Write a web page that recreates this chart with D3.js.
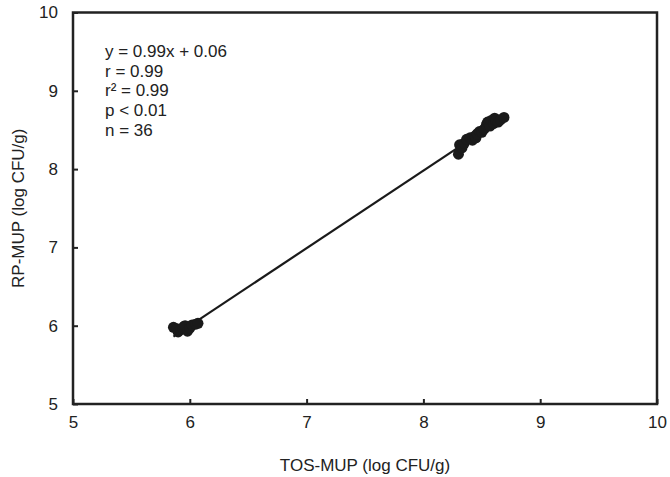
<!DOCTYPE html>
<html>
<head>
<meta charset="utf-8">
<script src="https://cdn.jsdelivr.net/npm/d3@7"></script>
<style>
html,body{margin:0;padding:0;background:#fff;}
svg{display:block;}
text{font-family:"Liberation Sans",Arial,sans-serif;fill:#222;}
</style>
</head>
<body>
<svg id="chart" width="670" height="477"></svg>
<script>
// TOS-MUP (x) values, log CFU/g
const xValues = [
  5.86, 5.89, 5.90, 5.92, 5.94, 5.95, 5.96, 5.98, 6.00, 6.02, 6.05, 6.07,
  8.30, 8.31, 8.33, 8.35, 8.37, 8.40, 8.42, 8.44, 8.45, 8.46, 8.48, 8.50,
  8.52, 8.54, 8.55, 8.56, 8.57, 8.58, 8.60, 8.61, 8.62, 8.64, 8.66, 8.69
];
// RP-MUP (y) values, log CFU/g
const yValues = [
  5.98, 5.96, 5.92, 5.95, 5.97, 5.99, 6.00, 5.93, 5.97, 6.01, 6.02, 6.03,
  8.19, 8.31, 8.27, 8.33, 8.38, 8.40, 8.37, 8.42, 8.40, 8.45, 8.48, 8.47,
  8.51, 8.57, 8.60, 8.58, 8.55, 8.62, 8.58, 8.65, 8.62, 8.60, 8.63, 8.66
];
const xTicks = [5, 6, 7, 8, 9, 10];
const yTicks = [5, 6, 7, 8, 9, 10];
const slope = 0.99, intercept = 0.06;
const statsLines = ["y = 0.99x + 0.06", "r = 0.99", "r\u00B2 = 0.99", "p < 0.01", "n = 36"];
const xTitle = "TOS-MUP (log CFU/g)";
const yTitle = "RP-MUP (log CFU/g)";

const svg = d3.select("#chart");
const L = 73, R = 657, T = 12.5, B = 404;
const x = d3.scaleLinear().domain([5, 10]).range([L, R]);
const y = d3.scaleLinear().domain([5, 10]).range([B, T]);

// frame
svg.append("rect").attr("x", L).attr("y", T).attr("width", R - L).attr("height", B - T)
  .attr("fill", "none").attr("stroke", "#222").attr("stroke-width", 2.5);

// ticks inward
const xAxis = d3.axisBottom(x).tickValues(xTicks).tickSize(-5).tickPadding(12).tickFormat(d3.format("d"));
const gx = svg.append("g").attr("transform", `translate(0,${B})`).call(xAxis);
gx.select(".domain").remove();
gx.selectAll(".tick line").attr("stroke", "#222").attr("stroke-width", 2);
gx.selectAll(".tick text").style("font-size", "17px").attr("fill", "#222");

const yAxis = d3.axisLeft(y).tickValues(yTicks).tickSize(-5).tickPadding(15).tickFormat(d3.format("d"));
const gy = svg.append("g").attr("transform", `translate(${L},0)`).call(yAxis);
gy.select(".domain").remove();
gy.selectAll(".tick line").attr("stroke", "#222").attr("stroke-width", 2);
gy.selectAll(".tick text").style("font-size", "17px").attr("fill", "#222");

// regression line
const xMin = d3.min(xValues), xMax = d3.max(xValues);
svg.append("line")
  .attr("x1", x(xMin)).attr("y1", y(slope * xMin + intercept))
  .attr("x2", x(xMax)).attr("y2", y(slope * xMax + intercept))
  .attr("stroke", "#1a1a1a").attr("stroke-width", 2.2);

// points
svg.append("g").selectAll("circle").data(xValues.map((v, i) => [v, yValues[i]]))
  .join("circle")
  .attr("cx", d => x(d[0])).attr("cy", d => y(d[1])).attr("r", 5.5)
  .attr("fill", "#1a1a1a");

// stats text
const st = svg.append("text").attr("x", 105).attr("y", 57).style("font-size", "17px");
statsLines.forEach((s, i) => {
  st.append("tspan").attr("x", 105).attr("dy", i === 0 ? 0 : 19.7).text(s);
});

// axis titles
svg.append("text").attr("x", (L + R) / 2).attr("y", 471).attr("text-anchor", "middle")
  .style("font-size", "17px").text(xTitle);
svg.append("text").attr("transform", `translate(24,${(T + B) / 2}) rotate(-90)`)
  .attr("text-anchor", "middle").style("font-size", "17px").text(yTitle);
</script>
</body>
</html>
